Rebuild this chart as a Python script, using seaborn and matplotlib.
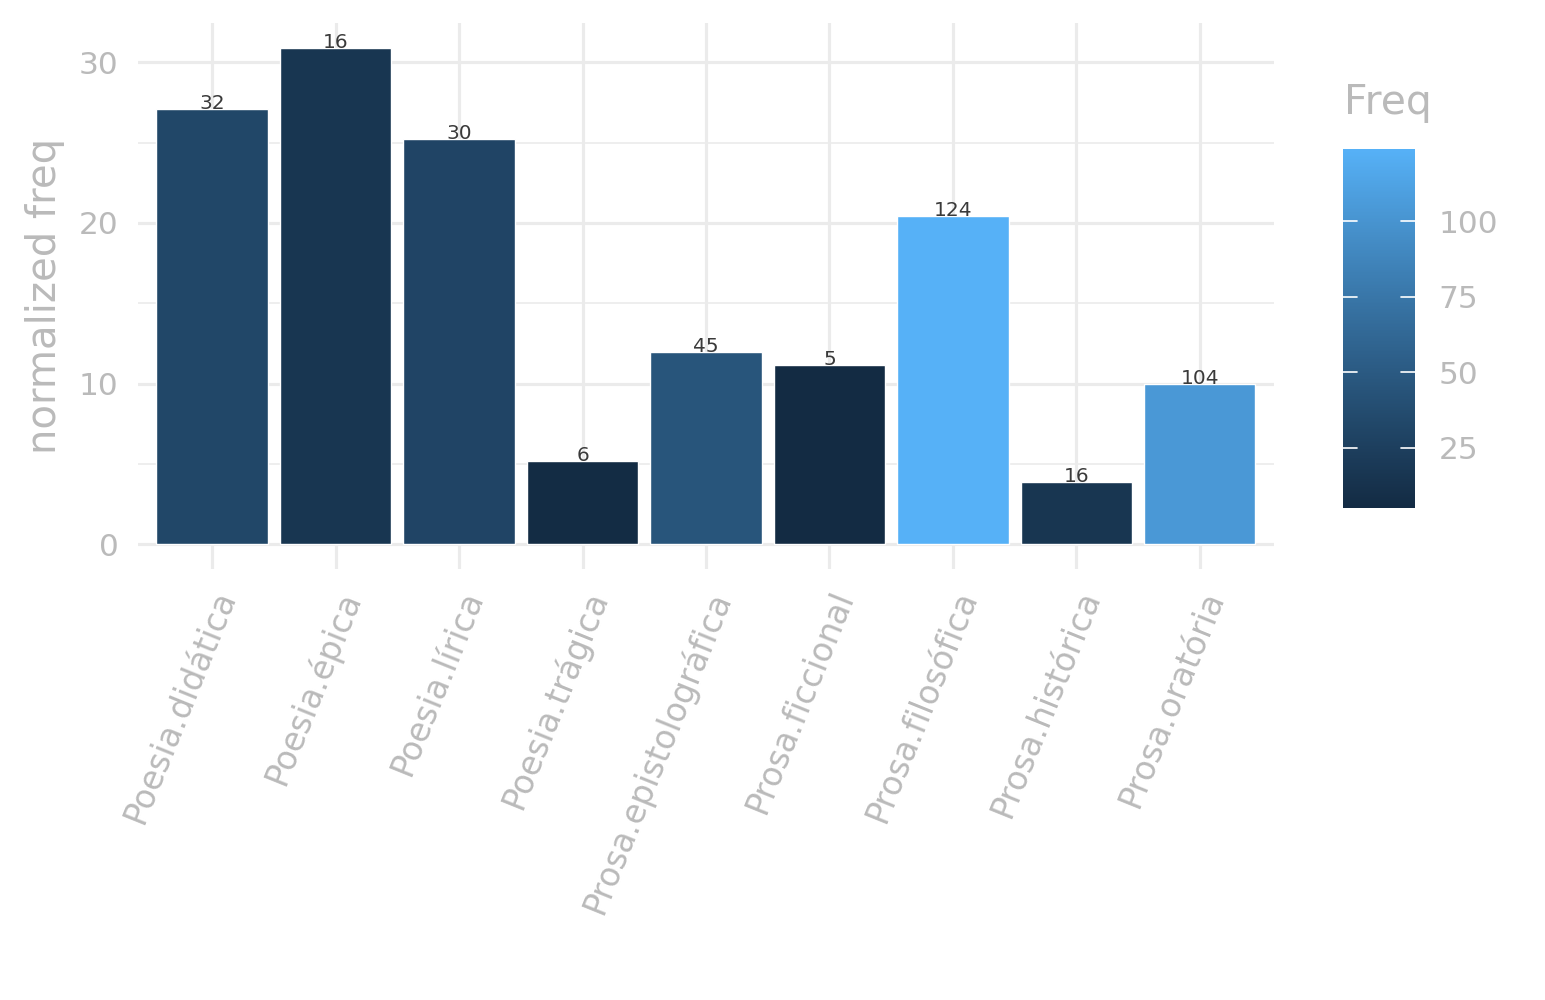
import numpy as np
import pandas as pd
import matplotlib
matplotlib.use('Agg')
import matplotlib.pyplot as plt
import matplotlib.colors as mcolors
import seaborn as sns

genres = ['Poesia.didática', 'Poesia.épica', 'Poesia.lírica', 'Poesia.trágica',
          'Prosa.epistolográfica', 'Prosa.ficcional', 'Prosa.filosófica',
          'Prosa.histórica', 'Prosa.oratória']
norm_freq = [27.1, 30.9, 25.25, 5.2, 11.95, 11.15, 20.4, 3.9, 9.95]
freq = [32, 16, 30, 6, 45, 5, 124, 16, 104]
cbar_ticks = [25, 50, 75, 100]

# ggplot-like gradient #132B43 -> #56B1F7, interpolated in Lab
WHITE = np.array([0.95047, 1.0, 1.08883])
M = np.array([[0.4124, 0.3576, 0.1805], [0.2126, 0.7152, 0.0722], [0.0193, 0.1192, 0.9505]])


def to_lab(hexc):
    rgb = np.array(mcolors.to_rgb(hexc))
    lin = np.where(rgb <= 0.04045, rgb / 12.92, ((rgb + 0.055) / 1.055) ** 2.4)
    xyz = M @ lin / WHITE
    f = np.where(xyz > 0.008856, np.cbrt(xyz), 7.787 * xyz + 16 / 116)
    return np.array([116 * f[1] - 16, 500 * (f[0] - f[1]), 200 * (f[1] - f[2])])


def from_lab(lab):
    fy = (lab[0] + 16) / 116
    f = np.array([fy + lab[1] / 500, fy, fy - lab[2] / 200])
    xyz = np.where(f ** 3 > 0.008856, f ** 3, (f - 16 / 116) / 7.787) * WHITE
    lin = np.linalg.solve(M, xyz)
    rgb = np.where(lin <= 0.0031308, 12.92 * lin, 1.055 * np.clip(lin, 0, None) ** (1 / 2.4) - 0.055)
    return np.clip(rgb, 0, 1)


lo, hi = to_lab('#132B43'), to_lab('#56B1F7')
cmap = mcolors.ListedColormap([from_lab(lo + t * (hi - lo)) for t in np.linspace(0, 1, 256)])
fnorm = mcolors.Normalize(vmin=min(freq), vmax=max(freq))
bar_colors = [cmap(fnorm(v)) for v in freq]

df = pd.DataFrame({'genre': genres, 'norm': norm_freq, 'Freq': freq})

sns.set_style('white')
plt.rcParams['font.family'] = ['DejaVu Sans']
grey = '#BABABA'

fig = plt.figure(figsize=(15.45, 10), dpi=100)
ax = fig.add_axes([0.0893, 0.431, 0.7353, 0.546])
sns.barplot(data=df, x='genre', y='norm', hue='genre', palette=bar_colors, legend=False,
            width=0.9, saturation=1, ax=ax, zorder=2)

for i, (v, f) in enumerate(zip(norm_freq, freq)):
    ax.text(i, v, str(f), ha='center', va='baseline', fontsize=14.5, color='#3A3A3A', zorder=3)

ax.set_xlim(-0.6, len(genres) - 0.4)
ax.set_ylim(-0.05 * max(norm_freq), 1.05 * max(norm_freq))
ax.set_yticks([0, 10, 20, 30])
ax.set_yticks([5, 15, 25], minor=True)
ax.grid(True, which='major', color='#EBEBEB', lw=2.3, zorder=0)
ax.grid(True, which='minor', axis='y', color='#EBEBEB', lw=1.2, zorder=0)
ax.set_axisbelow(True)
for s in ax.spines.values():
    s.set_visible(False)
ax.tick_params(axis='both', which='both', length=0, colors=grey, labelsize=22.5)
ax.tick_params(axis='y', pad=14)
ax.tick_params(axis='x', pad=12, labelsize=23.7)
ax.set_xticks(range(len(genres)))
ax.set_xticklabels(genres, rotation=68, ha='right', va='top', rotation_mode='anchor')
ax.set_xlabel('')
ax.set_ylabel('normalized freq', fontsize=29, color=grey)
ax.yaxis.set_label_coords(-0.064, 0.5)

# colour bar
cax = fig.add_axes([0.8693, 0.492, 0.0466, 0.359])
sm = plt.cm.ScalarMappable(norm=fnorm, cmap=cmap)
cb = fig.colorbar(sm, cax=cax, ticks=cbar_ticks)
cb.outline.set_visible(False)
cax.tick_params(length=0, colors=grey, labelsize=22.5, pad=17)
for t in cbar_ticks:
    cax.axhline(t, xmin=0, xmax=0.2, color='white', lw=1.2)
    cax.axhline(t, xmin=0.8, xmax=1, color='white', lw=1.2)
fig.text(1344 / 1545, 1 - 114 / 1000, 'Freq', ha='left', va='baseline', fontsize=29.5, color=grey)

fig.savefig('out.png', dpi=100)
